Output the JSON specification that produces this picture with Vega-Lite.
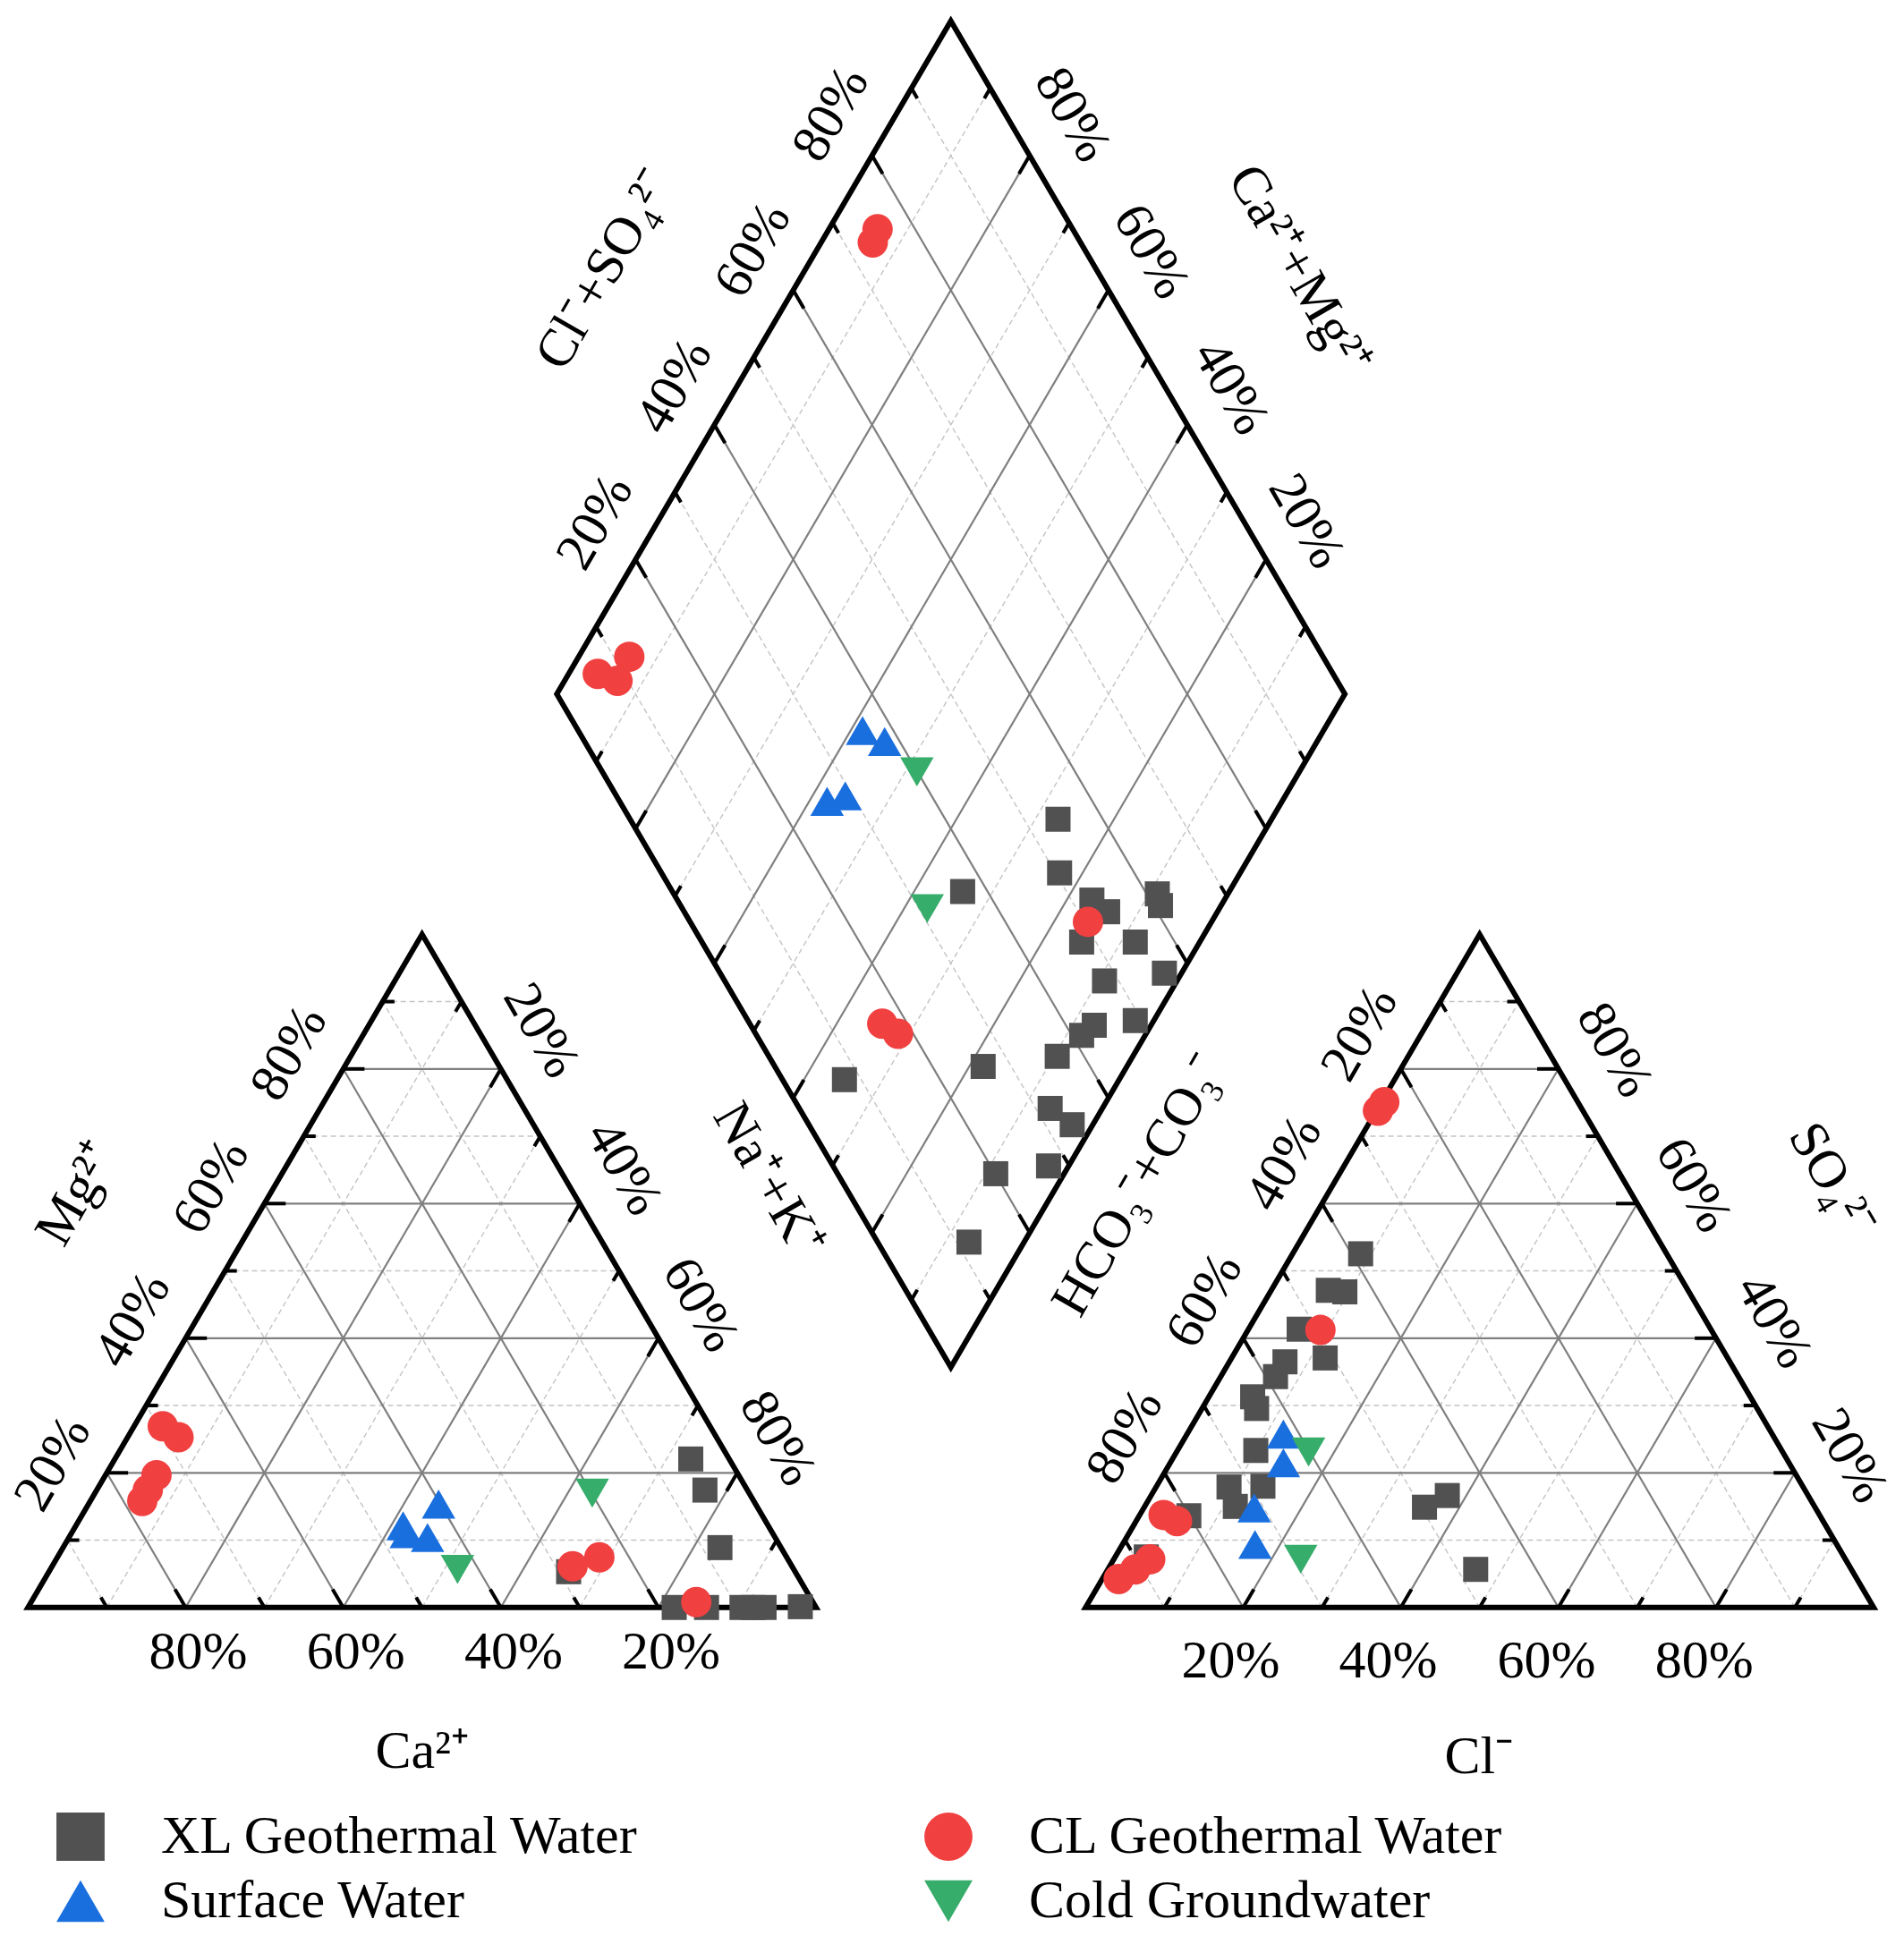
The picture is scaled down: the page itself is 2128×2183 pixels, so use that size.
{
"$schema": "https://vega.github.io/schema/vega-lite/v6.json",
"width": 2128, "height": 2183, "autosize": {"type": "none"}, "padding": 0,
"background": "white",
"config": {"view": {"stroke": null}},
"datasets": {
"minor": [
{"x":5,"y":8.66,"x2":95,"y2":8.66},{"x":15,"y":25.98,"x2":85,"y2":25.98},{"x":25,"y":43.3,"x2":75,"y2":43.3},{"x":35,"y":60.62,"x2":65,"y2":60.62},{"x":45,"y":77.94,"x2":55,"y2":77.94},
{"x":10,"y":0,"x2":5,"y2":8.66},{"x":30,"y":0,"x2":15,"y2":25.98},{"x":50,"y":0,"x2":25,"y2":43.3},{"x":70,"y":0,"x2":35,"y2":60.62},{"x":90,"y":0,"x2":45,"y2":77.94},
{"x":10,"y":0,"x2":55,"y2":77.94},{"x":30,"y":0,"x2":65,"y2":60.62},{"x":50,"y":0,"x2":75,"y2":43.3},{"x":70,"y":0,"x2":85,"y2":25.98},{"x":90,"y":0,"x2":95,"y2":8.66},
{"x":139.2,"y":8.66,"x2":229.2,"y2":8.66},{"x":149.2,"y":25.98,"x2":219.2,"y2":25.98},{"x":159.2,"y":43.3,"x2":209.2,"y2":43.3},{"x":169.2,"y":60.62,"x2":199.2,"y2":60.62},{"x":179.2,"y":77.94,"x2":189.2,"y2":77.94},
{"x":144.2,"y":0,"x2":139.2,"y2":8.66},{"x":164.2,"y":0,"x2":149.2,"y2":25.98},{"x":184.2,"y":0,"x2":159.2,"y2":43.3},{"x":204.2,"y":0,"x2":169.2,"y2":60.62},{"x":224.2,"y":0,"x2":179.2,"y2":77.94},
{"x":144.2,"y":0,"x2":189.2,"y2":77.94},{"x":164.2,"y":0,"x2":199.2,"y2":60.62},{"x":184.2,"y":0,"x2":209.2,"y2":43.3},{"x":204.2,"y":0,"x2":219.2,"y2":25.98},{"x":224.2,"y":0,"x2":229.2,"y2":8.66},
{"x":112.1,"y":39.56,"x2":162.1,"y2":126.16},{"x":102.1,"y":56.88,"x2":152.1,"y2":143.48},{"x":92.1,"y":74.2,"x2":142.1,"y2":160.8},{"x":82.1,"y":91.52,"x2":132.1,"y2":178.12},{"x":72.1,"y":108.84,"x2":122.1,"y2":195.44},
{"x":122.1,"y":39.56,"x2":72.1,"y2":126.16},{"x":132.1,"y":56.88,"x2":82.1,"y2":143.48},{"x":142.1,"y":74.2,"x2":92.1,"y2":160.8},{"x":152.1,"y":91.52,"x2":102.1,"y2":178.12},{"x":162.1,"y":108.84,"x2":112.1,"y2":195.44}
],
"major": [
{"x":10,"y":17.32,"x2":90,"y2":17.32},{"x":20,"y":34.64,"x2":80,"y2":34.64},{"x":30,"y":51.96,"x2":70,"y2":51.96},{"x":40,"y":69.28,"x2":60,"y2":69.28},
{"x":20,"y":0,"x2":10,"y2":17.32},{"x":40,"y":0,"x2":20,"y2":34.64},{"x":60,"y":0,"x2":30,"y2":51.96},{"x":80,"y":0,"x2":40,"y2":69.28},
{"x":20,"y":0,"x2":60,"y2":69.28},{"x":40,"y":0,"x2":70,"y2":51.96},{"x":60,"y":0,"x2":80,"y2":34.64},{"x":80,"y":0,"x2":90,"y2":17.32},
{"x":144.2,"y":17.32,"x2":224.2,"y2":17.32},{"x":154.2,"y":34.64,"x2":214.2,"y2":34.64},{"x":164.2,"y":51.96,"x2":204.2,"y2":51.96},{"x":174.2,"y":69.28,"x2":194.2,"y2":69.28},
{"x":154.2,"y":0,"x2":144.2,"y2":17.32},{"x":174.2,"y":0,"x2":154.2,"y2":34.64},{"x":194.2,"y":0,"x2":164.2,"y2":51.96},{"x":214.2,"y":0,"x2":174.2,"y2":69.28},
{"x":154.2,"y":0,"x2":194.2,"y2":69.28},{"x":174.2,"y":0,"x2":204.2,"y2":51.96},{"x":194.2,"y":0,"x2":214.2,"y2":34.64},{"x":214.2,"y":0,"x2":224.2,"y2":17.32},
{"x":107.1,"y":48.22,"x2":157.1,"y2":134.82},{"x":97.1,"y":65.54,"x2":147.1,"y2":152.14},{"x":87.1,"y":82.86,"x2":137.1,"y2":169.46},{"x":77.1,"y":100.18,"x2":127.1,"y2":186.78},
{"x":127.1,"y":48.22,"x2":77.1,"y2":134.82},{"x":137.1,"y":65.54,"x2":87.1,"y2":152.14},{"x":147.1,"y":82.86,"x2":97.1,"y2":169.46},{"x":157.1,"y":100.18,"x2":107.1,"y2":186.78}
],
"ticks": [
{"x":5,"y":8.66,"x2":6.5,"y2":8.66},{"x":10,"y":17.32,"x2":12.7,"y2":17.32},{"x":15,"y":25.98,"x2":16.5,"y2":25.98},{"x":20,"y":34.64,"x2":22.7,"y2":34.64},{"x":25,"y":43.3,"x2":26.5,"y2":43.3},{"x":30,"y":51.96,"x2":32.7,"y2":51.96},{"x":35,"y":60.62,"x2":36.5,"y2":60.62},{"x":40,"y":69.28,"x2":42.7,"y2":69.28},{"x":45,"y":77.94,"x2":46.5,"y2":77.94},
{"x":10,"y":0,"x2":9.25,"y2":1.3},{"x":20,"y":0,"x2":18.65,"y2":2.34},{"x":30,"y":0,"x2":29.25,"y2":1.3},{"x":40,"y":0,"x2":38.65,"y2":2.34},{"x":50,"y":0,"x2":49.25,"y2":1.3},{"x":60,"y":0,"x2":58.65,"y2":2.34},{"x":70,"y":0,"x2":69.25,"y2":1.3},{"x":80,"y":0,"x2":78.65,"y2":2.34},{"x":90,"y":0,"x2":89.25,"y2":1.3},
{"x":95,"y":8.66,"x2":94.25,"y2":7.36},{"x":90,"y":17.32,"x2":88.65,"y2":14.98},{"x":85,"y":25.98,"x2":84.25,"y2":24.68},{"x":80,"y":34.64,"x2":78.65,"y2":32.3},{"x":75,"y":43.3,"x2":74.25,"y2":42.0},{"x":70,"y":51.96,"x2":68.65,"y2":49.62},{"x":65,"y":60.62,"x2":64.25,"y2":59.32},{"x":60,"y":69.28,"x2":58.65,"y2":66.94},{"x":55,"y":77.94,"x2":54.25,"y2":76.64},
{"x":139.2,"y":8.66,"x2":139.95,"y2":7.36},{"x":144.2,"y":17.32,"x2":145.55,"y2":14.98},{"x":149.2,"y":25.98,"x2":149.95,"y2":24.68},{"x":154.2,"y":34.64,"x2":155.55,"y2":32.3},{"x":159.2,"y":43.3,"x2":159.95,"y2":42.0},{"x":164.2,"y":51.96,"x2":165.55,"y2":49.62},{"x":169.2,"y":60.62,"x2":169.95,"y2":59.32},{"x":174.2,"y":69.28,"x2":175.55,"y2":66.94},{"x":179.2,"y":77.94,"x2":179.95,"y2":76.64},
{"x":144.2,"y":0,"x2":144.95,"y2":1.3},{"x":154.2,"y":0,"x2":155.55,"y2":2.34},{"x":164.2,"y":0,"x2":164.95,"y2":1.3},{"x":174.2,"y":0,"x2":175.55,"y2":2.34},{"x":184.2,"y":0,"x2":184.95,"y2":1.3},{"x":194.2,"y":0,"x2":195.55,"y2":2.34},{"x":204.2,"y":0,"x2":204.95,"y2":1.3},{"x":214.2,"y":0,"x2":215.55,"y2":2.34},{"x":224.2,"y":0,"x2":224.95,"y2":1.3},
{"x":229.2,"y":8.66,"x2":227.7,"y2":8.66},{"x":224.2,"y":17.32,"x2":221.5,"y2":17.32},{"x":219.2,"y":25.98,"x2":217.7,"y2":25.98},{"x":214.2,"y":34.64,"x2":211.5,"y2":34.64},{"x":209.2,"y":43.3,"x2":207.7,"y2":43.3},{"x":204.2,"y":51.96,"x2":201.5,"y2":51.96},{"x":199.2,"y":60.62,"x2":197.7,"y2":60.62},{"x":194.2,"y":69.28,"x2":191.5,"y2":69.28},{"x":189.2,"y":77.94,"x2":187.7,"y2":77.94},
{"x":72.1,"y":126.16,"x2":72.85,"y2":124.86},{"x":77.1,"y":134.82,"x2":78.45,"y2":132.48},{"x":82.1,"y":143.48,"x2":82.85,"y2":142.18},{"x":87.1,"y":152.14,"x2":88.45,"y2":149.8},{"x":92.1,"y":160.8,"x2":92.85,"y2":159.5},{"x":97.1,"y":169.46,"x2":98.45,"y2":167.12},{"x":102.1,"y":178.12,"x2":102.85,"y2":176.82},{"x":107.1,"y":186.78,"x2":108.45,"y2":184.44},{"x":112.1,"y":195.44,"x2":112.85,"y2":194.14},
{"x":162.1,"y":126.16,"x2":161.35,"y2":124.86},{"x":157.1,"y":134.82,"x2":155.75,"y2":132.48},{"x":152.1,"y":143.48,"x2":151.35,"y2":142.18},{"x":147.1,"y":152.14,"x2":145.75,"y2":149.8},{"x":142.1,"y":160.8,"x2":141.35,"y2":159.5},{"x":137.1,"y":169.46,"x2":135.75,"y2":167.12},{"x":132.1,"y":178.12,"x2":131.35,"y2":176.82},{"x":127.1,"y":186.78,"x2":125.75,"y2":184.44},{"x":122.1,"y":195.44,"x2":121.35,"y2":194.14},
{"x":112.1,"y":39.56,"x2":112.85,"y2":40.86},{"x":107.1,"y":48.22,"x2":108.45,"y2":50.56},{"x":102.1,"y":56.88,"x2":102.85,"y2":58.18},{"x":97.1,"y":65.54,"x2":98.45,"y2":67.88},{"x":92.1,"y":74.2,"x2":92.85,"y2":75.5},{"x":87.1,"y":82.86,"x2":88.45,"y2":85.2},{"x":82.1,"y":91.52,"x2":82.85,"y2":92.82},{"x":77.1,"y":100.18,"x2":78.45,"y2":102.52},{"x":72.1,"y":108.84,"x2":72.85,"y2":110.14},
{"x":122.1,"y":39.56,"x2":121.35,"y2":40.86},{"x":127.1,"y":48.22,"x2":125.75,"y2":50.56},{"x":132.1,"y":56.88,"x2":131.35,"y2":58.18},{"x":137.1,"y":65.54,"x2":135.75,"y2":67.88},{"x":142.1,"y":74.2,"x2":141.35,"y2":75.5},{"x":147.1,"y":82.86,"x2":145.75,"y2":85.2},{"x":152.1,"y":91.52,"x2":151.35,"y2":92.82},{"x":157.1,"y":100.18,"x2":155.75,"y2":102.52},{"x":162.1,"y":108.84,"x2":161.35,"y2":110.14}
],
"frame": [
{"shape":"L","i":1,"x":50,"y":0},{"shape":"L","i":2,"x":100,"y":0},{"shape":"L","i":3,"x":50,"y":86.6},{"shape":"L","i":4,"x":0,"y":0},{"shape":"L","i":5,"x":50,"y":0},
{"shape":"R","i":1,"x":184.2,"y":0},{"shape":"R","i":2,"x":234.2,"y":0},{"shape":"R","i":3,"x":184.2,"y":86.6},{"shape":"R","i":4,"x":134.2,"y":0},{"shape":"R","i":5,"x":184.2,"y":0},
{"shape":"D","i":1,"x":92.1,"y":74.2},{"shape":"D","i":2,"x":67.1,"y":117.5},{"shape":"D","i":3,"x":117.1,"y":204.1},{"shape":"D","i":4,"x":167.1,"y":117.5},{"shape":"D","i":5,"x":117.1,"y":30.9},{"shape":"D","i":6,"x":92.1,"y":74.2}
],
"points": [
{"series":"XL Geothermal Water","x":84.1,"y":19.1},{"series":"XL Geothermal Water","x":85.9,"y":15.1},{"series":"XL Geothermal Water","x":87.8,"y":7.7},{"series":"XL Geothermal Water","x":68.6,"y":4.6},{"series":"XL Geothermal Water","x":82.0,"y":0},{"series":"XL Geothermal Water","x":86.1,"y":0},{"series":"XL Geothermal Water","x":90.6,"y":0},{"series":"XL Geothermal Water","x":92.0,"y":0},{"series":"XL Geothermal Water","x":93.4,"y":0},{"series":"XL Geothermal Water","x":98.0,"y":0.1},
{"series":"XL Geothermal Water","x":130.7,"y":101.4},{"series":"XL Geothermal Water","x":130.9,"y":94.5},{"series":"XL Geothermal Water","x":118.6,"y":92.1},{"series":"XL Geothermal Water","x":135.0,"y":91.0},{"series":"XL Geothermal Water","x":137.0,"y":89.5},{"series":"XL Geothermal Water","x":143.3,"y":91.8},{"series":"XL Geothermal Water","x":143.7,"y":90.3},{"series":"XL Geothermal Water","x":133.7,"y":85.6},{"series":"XL Geothermal Water","x":140.5,"y":85.6},{"series":"XL Geothermal Water","x":144.2,"y":81.6},{"series":"XL Geothermal Water","x":136.6,"y":80.6},{"series":"XL Geothermal Water","x":135.3,"y":74.9},{"series":"XL Geothermal Water","x":133.7,"y":73.6},{"series":"XL Geothermal Water","x":140.5,"y":75.5},{"series":"XL Geothermal Water","x":130.6,"y":70.9},{"series":"XL Geothermal Water","x":121.2,"y":69.6},{"series":"XL Geothermal Water","x":103.6,"y":67.9},{"series":"XL Geothermal Water","x":129.7,"y":64.2},{"series":"XL Geothermal Water","x":132.5,"y":62.1},{"series":"XL Geothermal Water","x":129.5,"y":56.8},{"series":"XL Geothermal Water","x":122.8,"y":55.8},{"series":"XL Geothermal Water","x":119.4,"y":47.0},
{"series":"XL Geothermal Water","x":169.1,"y":45.5},{"series":"XL Geothermal Water","x":165.0,"y":40.8},{"series":"XL Geothermal Water","x":167.1,"y":40.6},{"series":"XL Geothermal Water","x":161.3,"y":35.8},{"series":"XL Geothermal Water","x":164.6,"y":32.1},{"series":"XL Geothermal Water","x":159.5,"y":31.6},{"series":"XL Geothermal Water","x":158.3,"y":29.7},{"series":"XL Geothermal Water","x":155.4,"y":27.1},{"series":"XL Geothermal Water","x":155.9,"y":25.6},{"series":"XL Geothermal Water","x":155.8,"y":20.2},{"series":"XL Geothermal Water","x":152.4,"y":15.5},{"series":"XL Geothermal Water","x":156.7,"y":15.6},{"series":"XL Geothermal Water","x":153.2,"y":13.0},{"series":"XL Geothermal Water","x":147.3,"y":11.8},{"series":"XL Geothermal Water","x":141.9,"y":6.5},{"series":"XL Geothermal Water","x":177.2,"y":12.9},{"series":"XL Geothermal Water","x":180.1,"y":14.4},{"series":"XL Geothermal Water","x":183.7,"y":4.9},
{"series":"CL Geothermal Water","x":17.1,"y":23.3},{"series":"CL Geothermal Water","x":19.1,"y":21.9},{"series":"CL Geothermal Water","x":16.3,"y":17.0},{"series":"CL Geothermal Water","x":15.2,"y":15.1},{"series":"CL Geothermal Water","x":14.5,"y":13.7},{"series":"CL Geothermal Water","x":72.5,"y":6.45},{"series":"CL Geothermal Water","x":69.1,"y":5.3},{"series":"CL Geothermal Water","x":84.8,"y":0.7},
{"series":"CL Geothermal Water","x":107.8,"y":177.3},{"series":"CL Geothermal Water","x":107.2,"y":175.6},{"series":"CL Geothermal Water","x":76.3,"y":122.3},{"series":"CL Geothermal Water","x":72.3,"y":120.1},{"series":"CL Geothermal Water","x":74.8,"y":119.2},{"series":"CL Geothermal Water","x":108.4,"y":75.1},{"series":"CL Geothermal Water","x":110.4,"y":73.8},{"series":"CL Geothermal Water","x":134.5,"y":88.2},
{"series":"CL Geothermal Water","x":172.1,"y":65.0},{"series":"CL Geothermal Water","x":171.3,"y":63.9},{"series":"CL Geothermal Water","x":164.0,"y":35.7},{"series":"CL Geothermal Water","x":144.1,"y":11.9},{"series":"CL Geothermal Water","x":145.8,"y":11.1},{"series":"CL Geothermal Water","x":142.4,"y":6.2},{"series":"CL Geothermal Water","x":140.5,"y":4.9},{"series":"CL Geothermal Water","x":138.4,"y":3.65},
{"series":"Surface Water","x":52.1,"y":13.3},{"series":"Surface Water","x":47.6,"y":10.5},{"series":"Surface Water","x":48.0,"y":9.5},{"series":"Surface Water","x":50.7,"y":9.0},
{"series":"Surface Water","x":105.9,"y":112.8},{"series":"Surface Water","x":108.7,"y":111.4},{"series":"Surface Water","x":101.4,"y":103.7},{"series":"Surface Water","x":103.7,"y":104.4},
{"series":"Surface Water","x":159.3,"y":22.3},{"series":"Surface Water","x":159.3,"y":18.6},{"series":"Surface Water","x":155.6,"y":12.8},{"series":"Surface Water","x":155.7,"y":8.1},
{"series":"Cold Groundwater","x":71.6,"y":14.7},{"series":"Cold Groundwater","x":54.5,"y":4.9},
{"series":"Cold Groundwater","x":112.8,"y":107.5},{"series":"Cold Groundwater","x":114.1,"y":89.9},
{"series":"Cold Groundwater","x":162.5,"y":20.0},{"series":"Cold Groundwater","x":161.5,"y":6.2}
],
"lab0": [
{"x":21.6,"y":-5.8,"text":"80%"},{"x":41.6,"y":-5.8,"text":"60%"},{"x":61.6,"y":-5.8,"text":"40%"},{"x":81.6,"y":-5.8,"text":"20%"},
{"x":152.6,"y":-6.9,"text":"20%"},{"x":172.6,"y":-6.9,"text":"40%"},{"x":192.7,"y":-6.9,"text":"60%"},{"x":212.7,"y":-6.9,"text":"80%"},
{"x":50.0,"y":-18.6,"text":"Ca²⁺"},{"x":184.1,"y":-19.2,"text":"Cl⁻"}
],
"labL": [
{"x":3.2,"y":18.5,"text":"20%"},{"x":13.3,"y":37.0,"text":"40%"},{"x":23.25,"y":54.1,"text":"60%"},{"x":33.15,"y":71.3,"text":"80%"},
{"x":139.2,"y":22.0,"text":"80%"},{"x":149.3,"y":39.5,"text":"60%"},{"x":159.4,"y":57.1,"text":"40%"},{"x":169.0,"y":73.8,"text":"20%"},
{"x":72.0,"y":139.6,"text":"20%"},{"x":82.0,"y":157.1,"text":"40%"},{"x":92.0,"y":174.6,"text":"60%"},{"x":101.9,"y":192.1,"text":"80%"},
{"x":6.2,"y":53.2,"text":"Mg²⁺"},{"x":141.0,"y":54.3,"text":"HCO₃⁻+CO₃⁻"},{"x":73.2,"y":172.1,"text":"Cl⁻+SO₄²⁻"}
],
"labR": [
{"x":65.1,"y":74.2,"text":"20%"},{"x":75.6,"y":56.5,"text":"40%"},{"x":85.3,"y":38.9,"text":"60%"},{"x":95.1,"y":21.7,"text":"80%"},
{"x":201.3,"y":71.7,"text":"80%"},{"x":211.3,"y":54.3,"text":"60%"},{"x":221.5,"y":36.8,"text":"40%"},{"x":231.1,"y":19.5,"text":"20%"},
{"x":132.5,"y":192.0,"text":"80%"},{"x":142.5,"y":174.4,"text":"60%"},{"x":152.6,"y":156.9,"text":"40%"},{"x":162.2,"y":139.7,"text":"20%"},
{"x":93.9,"y":55.0,"text":"Na⁺+K⁺"},{"x":228.9,"y":55.0,"text":"SO₄²⁻"},{"x":161.3,"y":172.0,"text":"Ca²⁺+Mg²⁺"}
]
},
"layer": [
{"data":{"name":"minor"},"mark":{"type":"rule","color":"#c4c4c4","strokeWidth":1.4,"strokeDash":[6,4]},
 "encoding":{"x":{"field":"x","type":"quantitative","scale":{"domain":[-3.554,238.05],"nice":false,"zero":false},"axis":null},"y":{"field":"y","type":"quantitative","scale":{"domain":[-44.45,206.79],"nice":false,"zero":false},"axis":null},"x2":{"field":"x2"},"y2":{"field":"y2"}}},
{"data":{"name":"major"},"mark":{"type":"rule","color":"#7f7f7f","strokeWidth":2.2},
 "encoding":{"x":{"field":"x","type":"quantitative","scale":{"domain":[-3.554,238.05],"nice":false,"zero":false},"axis":null},"y":{"field":"y","type":"quantitative","scale":{"domain":[-44.45,206.79],"nice":false,"zero":false},"axis":null},"x2":{"field":"x2"},"y2":{"field":"y2"}}},
{"data":{"name":"ticks"},"mark":{"type":"rule","color":"black","strokeWidth":4},
 "encoding":{"x":{"field":"x","type":"quantitative","scale":{"domain":[-3.554,238.05],"nice":false,"zero":false},"axis":null},"y":{"field":"y","type":"quantitative","scale":{"domain":[-44.45,206.79],"nice":false,"zero":false},"axis":null},"x2":{"field":"x2"},"y2":{"field":"y2"}}},
{"data":{"name":"frame"},"mark":{"type":"line","color":"black","strokeWidth":6,"strokeJoin":"miter"},
 "encoding":{"x":{"field":"x","type":"quantitative","scale":{"domain":[-3.554,238.05],"nice":false,"zero":false},"axis":null},"y":{"field":"y","type":"quantitative","scale":{"domain":[-44.45,206.79],"nice":false,"zero":false},"axis":null},"detail":{"field":"shape"},"order":{"field":"i","type":"quantitative"}}},
{"data":{"name":"points"},"transform":[{"filter":"datum.series == 'XL Geothermal Water'"}],"mark":{"type":"point","filled":true,"opacity":1,"strokeWidth":0,"size":784},
 "encoding":{"x":{"field":"x","type":"quantitative","scale":{"domain":[-3.554,238.05],"nice":false,"zero":false},"axis":null},"y":{"field":"y","type":"quantitative","scale":{"domain":[-44.45,206.79],"nice":false,"zero":false},"axis":null},
  "color":{"field":"series","type":"nominal","scale":{"domain":["XL Geothermal Water","CL Geothermal Water","Surface Water","Cold Groundwater"],"range":["#515151","#F14040","#1A6FDF","#37AD6B"]},
   "legend":{"orient":"none","direction":"horizontal","legendX":60,"legendY":2023,"columns":2,"title":null,"labelFont":"Liberation Serif","labelFontSize":60,"labelColor":"black","labelLimit":0,"symbolSize":2900,"labelOffset":60,"columnPadding":315,"rowPadding":12,"padding":0,"symbolStrokeWidth":0,
    "encode":{"symbols":{"update":{"size":{"signal":"datum.value == 'XL Geothermal Water' ? 1680 : (datum.value == 'CL Geothermal Water' ? 1936 : 2700)"}}}}}},
  "shape":{"field":"series","type":"nominal","scale":{"domain":["XL Geothermal Water","CL Geothermal Water","Surface Water","Cold Groundwater"],"range":["square","circle","triangle-up","triangle-down"]}}}},
{"data":{"name":"points"},"transform":[{"filter":"datum.series == 'CL Geothermal Water'"}],"mark":{"type":"point","filled":true,"opacity":1,"strokeWidth":0,"size":1156},
 "encoding":{"x":{"field":"x","type":"quantitative","scale":{"domain":[-3.554,238.05],"nice":false,"zero":false},"axis":null},"y":{"field":"y","type":"quantitative","scale":{"domain":[-44.45,206.79],"nice":false,"zero":false},"axis":null},
  "color":{"field":"series","type":"nominal"},"shape":{"field":"series","type":"nominal"}}},
{"data":{"name":"points"},"transform":[{"filter":"datum.series == 'Surface Water'"}],"mark":{"type":"point","filled":true,"opacity":1,"strokeWidth":0,"size":1400},
 "encoding":{"x":{"field":"x","type":"quantitative","scale":{"domain":[-3.554,238.05],"nice":false,"zero":false},"axis":null},"y":{"field":"y","type":"quantitative","scale":{"domain":[-44.45,206.79],"nice":false,"zero":false},"axis":null},
  "color":{"field":"series","type":"nominal"},"shape":{"field":"series","type":"nominal"}}},
{"data":{"name":"points"},"transform":[{"filter":"datum.series == 'Cold Groundwater'"}],"mark":{"type":"point","filled":true,"opacity":1,"strokeWidth":0,"size":1400},
 "encoding":{"x":{"field":"x","type":"quantitative","scale":{"domain":[-3.554,238.05],"nice":false,"zero":false},"axis":null},"y":{"field":"y","type":"quantitative","scale":{"domain":[-44.45,206.79],"nice":false,"zero":false},"axis":null},
  "color":{"field":"series","type":"nominal"},"shape":{"field":"series","type":"nominal"}}},
{"data":{"name":"lab0"},"mark":{"type":"text","font":"Liberation Serif","fontSize":60,"align":"center","baseline":"middle","color":"black"},
 "encoding":{"x":{"field":"x","type":"quantitative","scale":{"domain":[-3.554,238.05],"nice":false,"zero":false},"axis":null},"y":{"field":"y","type":"quantitative","scale":{"domain":[-44.45,206.79],"nice":false,"zero":false},"axis":null},"text":{"field":"text"}}},
{"data":{"name":"labL"},"mark":{"type":"text","font":"Liberation Serif","fontSize":60,"align":"center","baseline":"middle","color":"black","angle":300},
 "encoding":{"x":{"field":"x","type":"quantitative","scale":{"domain":[-3.554,238.05],"nice":false,"zero":false},"axis":null},"y":{"field":"y","type":"quantitative","scale":{"domain":[-44.45,206.79],"nice":false,"zero":false},"axis":null},"text":{"field":"text"}}},
{"data":{"name":"labR"},"mark":{"type":"text","font":"Liberation Serif","fontSize":60,"align":"center","baseline":"middle","color":"black","angle":60},
 "encoding":{"x":{"field":"x","type":"quantitative","scale":{"domain":[-3.554,238.05],"nice":false,"zero":false},"axis":null},"y":{"field":"y","type":"quantitative","scale":{"domain":[-44.45,206.79],"nice":false,"zero":false},"axis":null},"text":{"field":"text"}}}
]
}
